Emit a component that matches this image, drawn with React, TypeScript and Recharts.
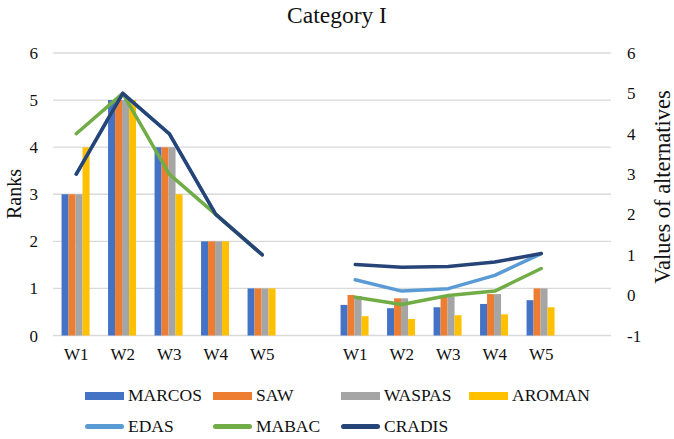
import React from "react";
import { ComposedChart, Bar, Line, XAxis, YAxis, CartesianGrid, Legend } from "recharts";

const categories = ["W1", "W2", "W3", "W4", "W5", "", "W1", "W2", "W3", "W4", "W5", ""];

const marcos = [3, 5, 4, 2, 1, null, 0.65, 0.58, 0.6, 0.67, 0.75, null];
const saw = [3, 5, 4, 2, 1, null, 0.86, 0.79, 0.83, 0.88, 1.0, null];
const waspas = [3, 5, 4, 2, 1, null, 0.84, 0.79, 0.82, 0.88, 1.0, null];
const aroman = [4, 5, 3, 2, 1, null, 0.41, 0.35, 0.43, 0.45, 0.6, null];

const edas = [3, 5, 4, 2, 1, null, 0.38, 0.1, 0.16, 0.49, 1.03, null];
const mabac = [4, 5, 3, 2, 1, null, -0.05, -0.23, -0.01, 0.1, 0.66, null];
const cradis = [3, 5, 4, 2, 1, null, 0.76, 0.69, 0.71, 0.82, 1.03, null];

const leftTicks = [0, 1, 2, 3, 4, 5, 6];
const rightTicks = [-1, 0, 1, 2, 3, 4, 5, 6];

const data = categories.map((c, i) => ({
  key: "c" + i,
  label: c,
  MARCOS: marcos[i],
  SAW: saw[i],
  WASPAS: waspas[i],
  AROMAN: aroman[i],
  EDAS: edas[i],
  MABAC: mabac[i],
  CRADIS: cradis[i],
}));

const FONT = "Liberation Serif";

const barItems = [
  { name: "MARCOS", color: "#4472C4" },
  { name: "SAW", color: "#ED7D31" },
  { name: "WASPAS", color: "#A5A5A5" },
  { name: "AROMAN", color: "#FFC000" },
];
const lineItems = [
  { name: "EDAS", color: "#5B9BD5" },
  { name: "MABAC", color: "#70AD47" },
  { name: "CRADIS", color: "#264478" },
];

const LegendContent = () => {
  const item = (it: { name: string; color: string }, isLine: boolean) => (
    <div key={it.name} style={{ display: "flex", alignItems: "center", height: 31 }}>
      <span
        style={{
          display: "inline-block",
          width: 39,
          height: isLine ? 4.5 : 8,
          borderRadius: isLine ? 3 : 0,
          background: it.color,
          marginRight: 4,
        }}
      />
      <span style={{ fontFamily: FONT, fontSize: 17.5, color: "#111", lineHeight: "31px" }}>{it.name}</span>
    </div>
  );
  return (
    <div style={{ paddingLeft: 85, fontFamily: FONT }}>
      <div style={{ display: "grid", gridTemplateColumns: "128px 128px 128px 128px" }}>
        {barItems.map((it) => item(it, false))}
      </div>
      <div style={{ display: "grid", gridTemplateColumns: "128px 128px 128px 128px" }}>
        {lineItems.map((it) => item(it, true))}
      </div>
    </div>
  );
};

const axisTitle = (text: string, x: number, y: number, size: number) => () =>
  (
    <text
      x={x}
      y={y}
      transform={`rotate(-90, ${x}, ${y})`}
      textAnchor="middle"
      dominantBaseline="central"
      fontFamily={FONT}
      fontSize={size}
      fill="#111"
    >
      {text}
    </text>
  );

const tickStyle = { fontFamily: FONT, fontSize: 17, fill: "#111", style: { fontFamily: FONT } };

export default function App() {
  return (
    <div
      style={{
        position: "absolute",
        top: 0,
        left: 0,
        width: 674,
        height: 439,
        background: "#fff",
        fontFamily: FONT,
      }}
    >
      <div
        style={{
          position: "absolute",
          top: 0,
          left: 0,
          width: 674,
          textAlign: "center",
          fontFamily: FONT,
          fontSize: 23.5,
          lineHeight: "30px",
          color: "#111",
        }}
      >
        Category I
      </div>
      <ComposedChart
        width={674}
        height={439}
        data={data}
        margin={{ top: 53, right: 0, bottom: 1.5, left: 0 }}
        barCategoryGap="18.4%"
        barGap={0}
        style={{ fontFamily: FONT }}
      >
        <CartesianGrid yAxisId="left" vertical={false} stroke="#d9d9d9" strokeWidth={1.3} />
        <XAxis
          dataKey="key"
          interval={0}
          tickFormatter={(_v: any, i: number) => categories[i]}
          axisLine={false}
          tickLine={false}
          tickSize={0}
          tickMargin={12}
          height={40}
          tick={tickStyle}
        />
        <YAxis
          yAxisId="left"
          orientation="left"
          domain={[0, 6]}
          ticks={leftTicks}
          width={53}
          axisLine={false}
          tickLine={false}
          tickSize={0}
          tickMargin={15}
          tick={tickStyle}
          label={{ content: axisTitle("Ranks", 14, 194, 20) }}
        />
        <YAxis
          yAxisId="right"
          orientation="right"
          domain={[-1, 6]}
          ticks={rightTicks}
          width={63}
          axisLine={false}
          tickLine={false}
          tickSize={0}
          tickMargin={16}
          tick={tickStyle}
          label={{ content: axisTitle("Values of alternatives", 662, 187, 22.5) }}
        />
        <Legend
          verticalAlign="bottom"
          content={<LegendContent />}
          wrapperStyle={{ position: "absolute", top: 380, left: 0, bottom: "auto", width: 674, height: 62 }}
        />
        {barItems.map((b) => (
          <Bar key={b.name} yAxisId="left" dataKey={b.name} fill={b.color} isAnimationActive={false} />
        ))}
        {lineItems.map((l) => (
          <Line
            key={l.name}
            yAxisId="right"
            type="linear"
            dataKey={l.name}
            stroke={l.color}
            strokeWidth={3.5}
            strokeLinecap="round"
            strokeLinejoin="round"
            dot={false}
            activeDot={false}
            isAnimationActive={false}
          />
        ))}
      </ComposedChart>
    </div>
  );
}
